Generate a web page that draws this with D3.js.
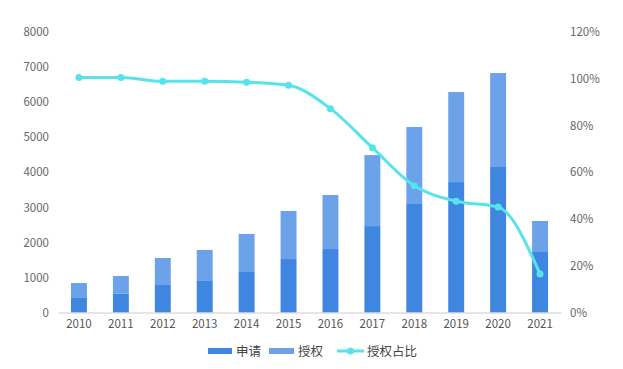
<!DOCTYPE html>
<html><head><meta charset="utf-8">
<script src="https://cdn.jsdelivr.net/npm/d3@7"></script>
<style>body{margin:0;background:#fff;}svg{display:block;}</style>
</head><body>
<svg id="c" width="623" height="369"></svg>
<script>
const years = ["2010","2011","2012","2013","2014","2015","2016","2017","2018","2019","2020","2021"];
const applied = [415, 535, 785, 900, 1155, 1525, 1810, 2465, 3095, 3720, 4150, 1725];
const granted = [425, 505, 770, 885, 1085, 1370, 1540, 2025, 2195, 2570, 2680, 885];
const ratio = [100.5, 100.5, 98.9, 98.9, 98.5, 97.2, 87.2, 70.5, 54.2, 47.6, 45.1, 16.5];
const leftTicks = [0,1000,2000,3000,4000,5000,6000,7000,8000];
const rightTicks = [0,20,40,60,80,100,120];
const names = ["申请","授权","授权占比"];
const colors = {applied:"#3f86e0", granted:"#6ba2ea", line:"#57e3ea"};

const svg = d3.select("#c");
const font = "'Microsoft YaHei','Noto Sans CJK SC',sans-serif";
const L = 58, R = 561, T = 32, B = 312.5;
const x = d3.scaleBand().domain(years).range([L, R]).paddingInner(0.62).paddingOuter(0.31);
const yL = d3.scaleLinear().domain([0, 8000]).range([B, T]);
const yR = d3.scaleLinear().domain([0, 120]).range([B, T]);

// left axis
const ga = svg.append("g").attr("transform", `translate(${L},0)`)
  .call(d3.axisLeft(yL).tickValues(leftTicks).tickFormat(d3.format("d")).tickSize(0).tickPadding(9));
ga.select(".domain").remove();
ga.selectAll("text").attr("font-family", font).attr("font-size", 11.5).attr("fill", "#666");
// right axis
const gr = svg.append("g").attr("transform", `translate(${R},0)`)
  .call(d3.axisRight(yR).tickValues(rightTicks).tickFormat(d => d + "%").tickSize(0).tickPadding(9));
gr.select(".domain").remove();
gr.selectAll("text").attr("font-family", font).attr("font-size", 11.5).attr("fill", "#666");

// bars
const g = svg.append("g");
g.selectAll(".a").data(years).join("rect")
  .attr("x", d => x(d)).attr("width", x.bandwidth())
  .attr("y", (d,i) => yL(applied[i])).attr("height", (d,i) => yL(0) - yL(applied[i]))
  .attr("fill", colors.applied);
g.selectAll(".g").data(years).join("rect")
  .attr("x", d => x(d)).attr("width", x.bandwidth())
  .attr("y", (d,i) => yL(applied[i] + granted[i])).attr("height", (d,i) => yL(applied[i]) - yL(applied[i] + granted[i]))
  .attr("fill", colors.granted);

// x axis
const gx = svg.append("g").attr("transform", `translate(0,${B})`)
  .call(d3.axisBottom(x).tickSize(0).tickPadding(7));
gx.select(".domain").attr("stroke", "#ccc");
gx.selectAll("text").attr("font-family", font).attr("font-size", 11.5).attr("fill", "#555");

// line
const cx = d => x(d) + x.bandwidth() / 2;
const line = d3.line().x((d,i) => cx(years[i])).y(d => yR(d)).curve(d3.curveMonotoneX);
svg.append("path").datum(ratio).attr("d", line).attr("fill", "none")
  .attr("stroke", colors.line).attr("stroke-width", 3);
svg.selectAll(".pt").data(ratio).join("circle")
  .attr("cx", (d,i) => cx(years[i])).attr("cy", d => yR(d)).attr("r", 3.5)
  .attr("fill", colors.line);

// legend
const lg = svg.append("g").attr("font-family", font).attr("font-size", 12.5).attr("fill", "#444");
lg.append("rect").attr("x", 208).attr("y", 348).attr("width", 24).attr("height", 6).attr("fill", colors.applied);
lg.append("text").attr("x", 236).attr("y", 355.5).text(names[0]);
lg.append("rect").attr("x", 269).attr("y", 348).attr("width", 25).attr("height", 6).attr("fill", colors.granted);
lg.append("text").attr("x", 298).attr("y", 355.5).text(names[1]);
lg.append("line").attr("x1", 337).attr("x2", 364).attr("y1", 351).attr("y2", 351).attr("stroke", colors.line).attr("stroke-width", 3);
lg.append("circle").attr("cx", 350.5).attr("cy", 351).attr("r", 3.5).attr("fill", colors.line);
lg.append("text").attr("x", 367).attr("y", 355.5).text(names[2]);
</script>
</body></html>
